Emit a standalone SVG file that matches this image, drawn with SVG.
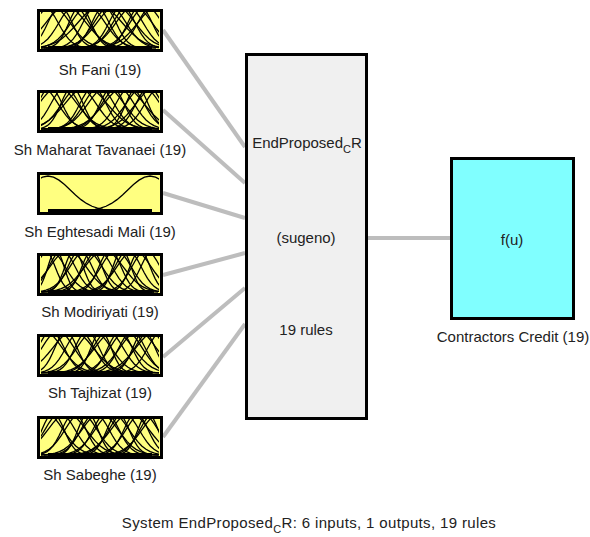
<svg xmlns="http://www.w3.org/2000/svg" xmlns:xlink="http://www.w3.org/1999/xlink" width="590" height="537" viewBox="0 0 590 537">
<style>
  text { font-family: "Liberation Sans", Arial, sans-serif; font-size: 15px; fill: #222; }
  .lbl { text-anchor: middle; }
  .inbox { fill: #ffff80; stroke: #000; stroke-width: 3; }
  .mf { fill: none; stroke: #000; stroke-width: 1.3; vector-effect: non-scaling-stroke; }
  .base { stroke: #000; stroke-width: 3; }
  .conn line { stroke: #bdbdbd; stroke-width: 4; }
</style>
<defs>
  <path id="g" class="mf" d="M-40,10 L-35,9.98 L-30,9.89 L-27.5,9.77 L-25,9.56 L-22.5,9.2 L-20,8.65 L-17.5,7.84 L-15,6.75 L-12.5,5.42 L-10,3.94 L-7.5,2.45 L-5,1.18 L-2.5,0.31 L0,0 L2.5,0.31 L5,1.18 L7.5,2.45 L10,3.94 L12.5,5.42 L15,6.75 L17.5,7.84 L20,8.65 L22.5,9.2 L25,9.56 L27.5,9.77 L30,9.89 L35,9.98 L40,10"/>
  <clipPath id="pc"><rect x="41" y="3" width="118" height="37"/></clipPath>
</defs>

<g id="connectors" class="conn">
  <line x1="163" y1="30" x2="245" y2="147"/>
  <line x1="163" y1="110" x2="245" y2="183"/>
  <line x1="163" y1="193" x2="245" y2="218"/>
  <line x1="163" y1="275" x2="245" y2="253"/>
  <line x1="163" y1="357" x2="245" y2="288"/>
  <line x1="163" y1="437" x2="245" y2="324"/>
  <line x1="368" y1="238" x2="450" y2="238"/>
</g>

<g id="input1" transform="translate(0,9)">
  <rect class="inbox" x="38.5" y="1.5" width="123" height="40"/>
  <g clip-path="url(#pc)">
    <use href="#g" transform="translate(44,-3) scale(1.4,4.2)"/>
    <use href="#g" transform="translate(52,-3) scale(1.8,4.2)"/>
    <use href="#g" transform="translate(60,-3) scale(1.2,4.2)"/>
    <use href="#g" transform="translate(66,-3) scale(2.0,4.2)"/>
    <use href="#g" transform="translate(74,-3) scale(1.5,4.2)"/>
    <use href="#g" transform="translate(80,-3) scale(1.1,4.2)"/>
    <use href="#g" transform="translate(88,-3) scale(1.7,4.2)"/>
    <use href="#g" transform="translate(96,-3) scale(1.3,4.2)"/>
    <use href="#g" transform="translate(100,-3) scale(2.2,4.2)"/>
    <use href="#g" transform="translate(104,-3) scale(1.2,4.2)"/>
    <use href="#g" transform="translate(110,-3) scale(1.6,4.2)"/>
    <use href="#g" transform="translate(116,-3) scale(1.9,4.2)"/>
    <use href="#g" transform="translate(122,-3) scale(1.3,4.2)"/>
    <use href="#g" transform="translate(128,-3) scale(1.5,4.2)"/>
    <use href="#g" transform="translate(134,-3) scale(1.8,4.2)"/>
    <use href="#g" transform="translate(140,-3) scale(1.2,4.2)"/>
    <use href="#g" transform="translate(146,-3) scale(1.6,4.2)"/>
    <use href="#g" transform="translate(152,-3) scale(1.4,4.2)"/>
    <use href="#g" transform="translate(158,-3) scale(2.0,4.2)"/>
    <line class="base" x1="48" y1="38.5" x2="152" y2="38.5"/>
  </g>
  <text class="lbl" x="100" y="66">Sh Fani (19)</text>
</g>

<g id="input2" transform="translate(0,90)">
  <rect class="inbox" x="38.5" y="1.5" width="123" height="40"/>
  <g clip-path="url(#pc)">
    <use href="#g" transform="translate(42,-3) scale(1.6,4.2)"/>
    <use href="#g" transform="translate(50,-3) scale(1.2,4.2)"/>
    <use href="#g" transform="translate(58,-3) scale(1.9,4.2)"/>
    <use href="#g" transform="translate(65,-3) scale(1.4,4.2)"/>
    <use href="#g" transform="translate(72,-3) scale(1.1,4.2)"/>
    <use href="#g" transform="translate(79,-3) scale(1.7,4.2)"/>
    <use href="#g" transform="translate(86,-3) scale(2.1,4.2)"/>
    <use href="#g" transform="translate(93,-3) scale(1.3,4.2)"/>
    <use href="#g" transform="translate(99,-3) scale(1.5,4.2)"/>
    <use href="#g" transform="translate(106,-3) scale(1.8,4.2)"/>
    <use href="#g" transform="translate(112,-3) scale(1.2,4.2)"/>
    <use href="#g" transform="translate(118,-3) scale(1.6,4.2)"/>
    <use href="#g" transform="translate(124,-3) scale(2.0,4.2)"/>
    <use href="#g" transform="translate(130,-3) scale(1.4,4.2)"/>
    <use href="#g" transform="translate(137,-3) scale(1.1,4.2)"/>
    <use href="#g" transform="translate(143,-3) scale(1.7,4.2)"/>
    <use href="#g" transform="translate(149,-3) scale(1.3,4.2)"/>
    <use href="#g" transform="translate(155,-3) scale(1.9,4.2)"/>
    <use href="#g" transform="translate(160,-3) scale(1.5,4.2)"/>
    <line class="base" x1="48" y1="38.5" x2="152" y2="38.5"/>
  </g>
  <text class="lbl" x="100" y="65">Sh Maharat Tavanaei (19)</text>
</g>

<g id="input3" transform="translate(0,172)">
  <rect class="inbox" x="38.5" y="1.5" width="123" height="40"/>
  <g clip-path="url(#pc)">
    <use href="#g" transform="translate(48,4) scale(2.2,3.5)"/>
    <use href="#g" transform="translate(150,4) scale(2.2,3.5)"/>
    <line class="base" x1="48" y1="38.5" x2="152" y2="38.5"/>
  </g>
  <text class="lbl" x="100" y="65">Sh Eghtesadi Mali (19)</text>
</g>

<g id="input4" transform="translate(0,253)">
  <rect class="inbox" x="38.5" y="1.5" width="123" height="40"/>
  <g clip-path="url(#pc)">
    <use href="#g" transform="translate(45,-3) scale(1.0,4.2)"/>
    <use href="#g" transform="translate(50,-3) scale(1.5,4.2)"/>
    <use href="#g" transform="translate(56,-3) scale(0.8,4.2)"/>
    <use href="#g" transform="translate(62,-3) scale(1.3,4.2)"/>
    <use href="#g" transform="translate(68,-3) scale(1.8,4.2)"/>
    <use href="#g" transform="translate(74,-3) scale(0.9,4.2)"/>
    <use href="#g" transform="translate(80,-3) scale(1.2,4.2)"/>
    <use href="#g" transform="translate(86,-3) scale(1.6,4.2)"/>
    <use href="#g" transform="translate(92,-3) scale(1.0,4.2)"/>
    <use href="#g" transform="translate(98,-3) scale(1.4,4.2)"/>
    <use href="#g" transform="translate(104,-3) scale(1.9,4.2)"/>
    <use href="#g" transform="translate(110,-3) scale(1.1,4.2)"/>
    <use href="#g" transform="translate(116,-3) scale(1.5,4.2)"/>
    <use href="#g" transform="translate(122,-3) scale(0.9,4.2)"/>
    <use href="#g" transform="translate(128,-3) scale(1.3,4.2)"/>
    <use href="#g" transform="translate(134,-3) scale(1.7,4.2)"/>
    <use href="#g" transform="translate(140,-3) scale(1.0,4.2)"/>
    <use href="#g" transform="translate(146,-3) scale(1.4,4.2)"/>
    <use href="#g" transform="translate(153,-3) scale(1.2,4.2)"/>
    <line class="base" x1="48" y1="38.5" x2="152" y2="38.5"/>
  </g>
  <text class="lbl" x="100" y="64">Sh Modiriyati (19)</text>
</g>

<g id="input5" transform="translate(0,334)">
  <rect class="inbox" x="38.5" y="1.5" width="123" height="40"/>
  <g clip-path="url(#pc)">
    <use href="#g" transform="translate(44,-3) scale(1.8,4.2)"/>
    <use href="#g" transform="translate(51,-3) scale(1.3,4.2)"/>
    <use href="#g" transform="translate(58,-3) scale(1.6,4.2)"/>
    <use href="#g" transform="translate(66,-3) scale(1.1,4.2)"/>
    <use href="#g" transform="translate(73,-3) scale(2.0,4.2)"/>
    <use href="#g" transform="translate(80,-3) scale(1.4,4.2)"/>
    <use href="#g" transform="translate(87,-3) scale(1.2,4.2)"/>
    <use href="#g" transform="translate(94,-3) scale(1.7,4.2)"/>
    <use href="#g" transform="translate(101,-3) scale(1.0,4.2)"/>
    <use href="#g" transform="translate(108,-3) scale(1.5,4.2)"/>
    <use href="#g" transform="translate(114,-3) scale(1.9,4.2)"/>
    <use href="#g" transform="translate(120,-3) scale(1.2,4.2)"/>
    <use href="#g" transform="translate(126,-3) scale(1.6,4.2)"/>
    <use href="#g" transform="translate(132,-3) scale(1.3,4.2)"/>
    <use href="#g" transform="translate(138,-3) scale(1.8,4.2)"/>
    <use href="#g" transform="translate(144,-3) scale(1.1,4.2)"/>
    <use href="#g" transform="translate(150,-3) scale(1.5,4.2)"/>
    <use href="#g" transform="translate(156,-3) scale(2.0,4.2)"/>
    <use href="#g" transform="translate(162,-3) scale(1.4,4.2)"/>
    <line class="base" x1="48" y1="38.5" x2="152" y2="38.5"/>
  </g>
  <text class="lbl" x="100" y="64">Sh Tajhizat (19)</text>
</g>

<g id="input6" transform="translate(0,416)">
  <rect class="inbox" x="38.5" y="1.5" width="123" height="40"/>
  <g clip-path="url(#pc)">
    <use href="#g" transform="translate(46,-3) scale(1.7,4.2)"/>
    <use href="#g" transform="translate(53,-3) scale(1.1,4.2)"/>
    <use href="#g" transform="translate(60,-3) scale(1.5,4.2)"/>
    <use href="#g" transform="translate(67,-3) scale(1.9,4.2)"/>
    <use href="#g" transform="translate(74,-3) scale(1.2,4.2)"/>
    <use href="#g" transform="translate(81,-3) scale(1.6,4.2)"/>
    <use href="#g" transform="translate(88,-3) scale(1.0,4.2)"/>
    <use href="#g" transform="translate(95,-3) scale(1.4,4.2)"/>
    <use href="#g" transform="translate(100,-3) scale(1.8,4.2)"/>
    <use href="#g" transform="translate(106,-3) scale(1.3,4.2)"/>
    <use href="#g" transform="translate(112,-3) scale(1.7,4.2)"/>
    <use href="#g" transform="translate(118,-3) scale(1.1,4.2)"/>
    <use href="#g" transform="translate(124,-3) scale(1.5,4.2)"/>
    <use href="#g" transform="translate(130,-3) scale(1.9,4.2)"/>
    <use href="#g" transform="translate(136,-3) scale(1.2,4.2)"/>
    <use href="#g" transform="translate(142,-3) scale(1.6,4.2)"/>
    <use href="#g" transform="translate(148,-3) scale(1.0,4.2)"/>
    <use href="#g" transform="translate(154,-3) scale(1.4,4.2)"/>
    <use href="#g" transform="translate(160,-3) scale(1.8,4.2)"/>
    <line class="base" x1="48" y1="38.5" x2="152" y2="38.5"/>
  </g>
  <text class="lbl" x="100" y="64">Sh Sabeghe (19)</text>
</g>

<g id="system">
  <rect x="246.5" y="54.5" width="120" height="364" fill="#f0f0f0" stroke="#000" stroke-width="3"/>
  <text class="lbl" x="307" y="148">EndProposed<tspan font-size="11" dy="5">C</tspan><tspan dy="-5">R</tspan></text>
  <text class="lbl" x="306" y="243">(sugeno)</text>
  <text class="lbl" x="306" y="335">19 rules</text>
</g>

<g id="output">
  <rect x="451.5" y="158.5" width="122" height="160" fill="#80ffff" stroke="#000" stroke-width="3"/>
  <text class="lbl" x="512" y="245">f(u)</text>
  <text class="lbl" x="513" y="342">Contractors Credit (19)</text>
</g>

<text class="lbl" x="309" y="528" letter-spacing="0.35">System EndProposed<tspan font-size="11" dy="5">C</tspan><tspan dy="-5">R: 6 inputs, 1 outputs, 19 rules</tspan></text>
</svg>
